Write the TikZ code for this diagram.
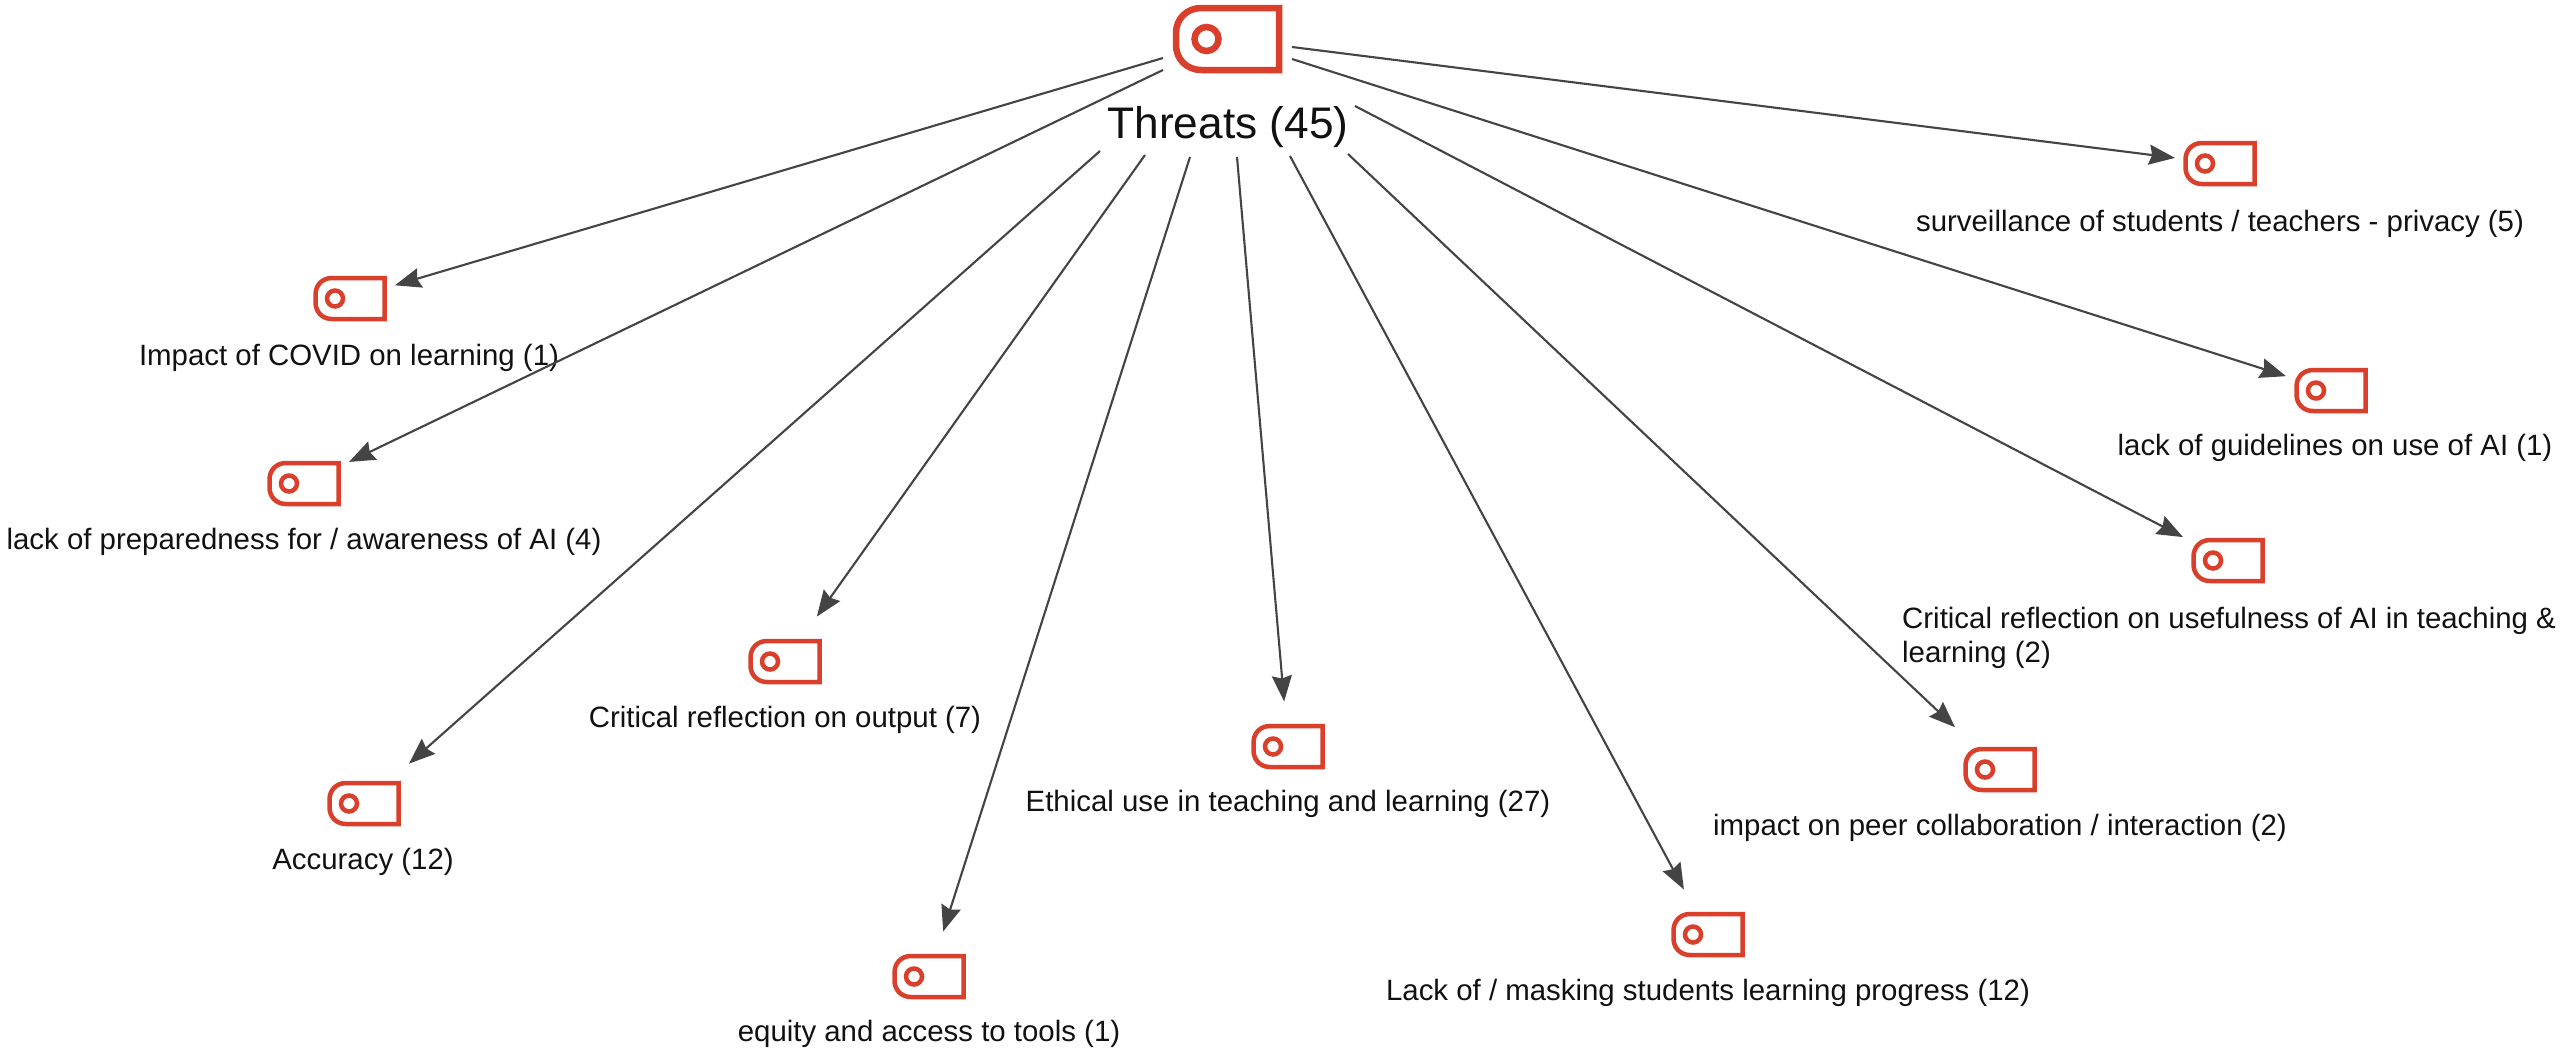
\documentclass[tikz,border=0pt]{standalone}
\usepackage{fontspec}
\setmainfont{Liberation Sans}
\usetikzlibrary{arrows.meta}
\definecolor{tagred}{HTML}{D93F2B}
\definecolor{linkgrey}{HTML}{444444}
\definecolor{inktext}{HTML}{111111}
\tikzset{
  x=1pt,y=-1pt,
  hit/.style={draw=none,rectangle,minimum size=90pt,inner sep=0pt,outer sep=0pt},
  lab/.style={text=inktext,font=\fontsize{29.4}{34}\selectfont,inner sep=0pt},
  biglab/.style={text=inktext,font=\fontsize{44.2}{50}\selectfont,inner sep=0pt},
  conn/.style={draw=linkgrey,line width=2.1pt,-{Stealth[length=26pt,width=20pt,inset=3pt]}},
  tag/.pic={
    \draw[tagred,line width=4.5pt,line join=miter,x=1pt,y=-1pt]
      (34.5,-20.5) -- (-18,-20.5) .. controls (-28,-20.5) and (-34.5,-13) .. (-34.5,-4)
      -- (-34.5,4) .. controls (-34.5,13) and (-28,20.5) .. (-18,20.5) -- (34.5,20.5) -- cycle;
    \draw[tagred,line width=4.5pt] (-15,0) circle[radius=8];
  },
  bigtag/.pic={
    \draw[tagred,line width=6.5pt,line join=miter,x=1pt,y=-1pt]
      (51.5,-31) -- (-26,-31) .. controls (-41,-31) and (-51.5,-20) .. (-51.5,-6)
      -- (-51.5,6) .. controls (-51.5,20) and (-41,31) .. (-26,31) -- (51.5,31) -- cycle;
    \draw[tagred,line width=6.5pt] (-21,0) circle[radius=12];
  }
}
\begin{document}
\begin{tikzpicture}
\useasboundingbox[fill=white] (0,0) rectangle (2560,1055);

% root
\pic at (1227.5,39) {bigtag};
\node[biglab] (root) at (1228,127) {Threats (45)};

% start points of the connectors, round the root icon and its label
\coordinate (s1) at (1163,58);
\coordinate (s2) at (1163,70);
\coordinate (s3) at (1100,151);
\coordinate (s4) at (1145,155);
\coordinate (s5) at (1190,157);
\coordinate (s6) at (1237,157);
\coordinate (s7) at (1290,156);
\coordinate (s8) at (1348,154);
\coordinate (s9) at (1355,106);
\coordinate (s10) at (1292,59);
\coordinate (s11) at (1292,47);

% leaf icons
\node[hit] (covid) at (350,298.5) {};   \pic at (covid) {tag};
\node[hit] (prep) at (304,483.5) {};    \pic at (prep) {tag};
\node[hit] (accu) at (364,803.5) {};    \pic at (accu) {tag};
\node[hit] (outp) at (785,661.5) {};    \pic at (outp) {tag};
\node[hit] (equi) at (929,976.5) {};    \pic at (equi) {tag};
\node[hit] (ethi) at (1288,746.5) {};   \pic at (ethi) {tag};
\node[hit] (mask) at (1708,934.5) {};   \pic at (mask) {tag};
\node[hit] (peer) at (2000,769.5) {};   \pic at (peer) {tag};
\node[hit] (usef) at (2228,560.5) {};   \pic at (usef) {tag};
\node[hit] (guid) at (2331,390.5) {};   \pic at (guid) {tag};
\node[hit] (surv) at (2220,163.5) {};   \pic at (surv) {tag};

% labels
\node[lab] (lcovid) at (349,358) {Impact of COVID on learning (1)};
\node[lab] (lprep) at (304,542) {lack of preparedness for / awareness of AI (4)};
\node[lab] (laccu) at (363,862) {Accuracy (12)};
\node[lab] (loutp) at (785,720) {Critical reflection on output (7)};
\node[lab] (lequi) at (929,1034) {equity and access to tools (1)};
\node[lab] (lethi) at (1288,804) {Ethical use in teaching and learning (27)};
\node[lab] (lmask) at (1708,993) {Lack of / masking students learning progress (12)};
\node[lab] (lpeer) at (2000,828) {impact on peer collaboration / interaction (2)};
\node[lab,align=left,anchor=north west] (lusef) at (1902,607) {Critical reflection on usefulness of AI in teaching \&\\learning (2)};
\node[lab] (lguid) at (2335,448) {lack of guidelines on use of AI (1)};
\node[lab] (lsurv) at (2220,224) {surveillance of students / teachers - privacy (5)};

% connectors
\draw[conn] (s1) -- (covid);
\draw[conn] (s2) -- (prep);
\draw[conn] (s3) -- (accu);
\draw[conn] (s4) -- (outp);
\draw[conn] (s5) -- (equi);
\draw[conn] (s6) -- (ethi);
\draw[conn] (s7) -- (mask);
\draw[conn] (s8) -- (peer);
\draw[conn] (s9) -- (usef);
\draw[conn] (s10) -- (guid);
\draw[conn] (s11) -- (surv);
\end{tikzpicture}
\end{document}
